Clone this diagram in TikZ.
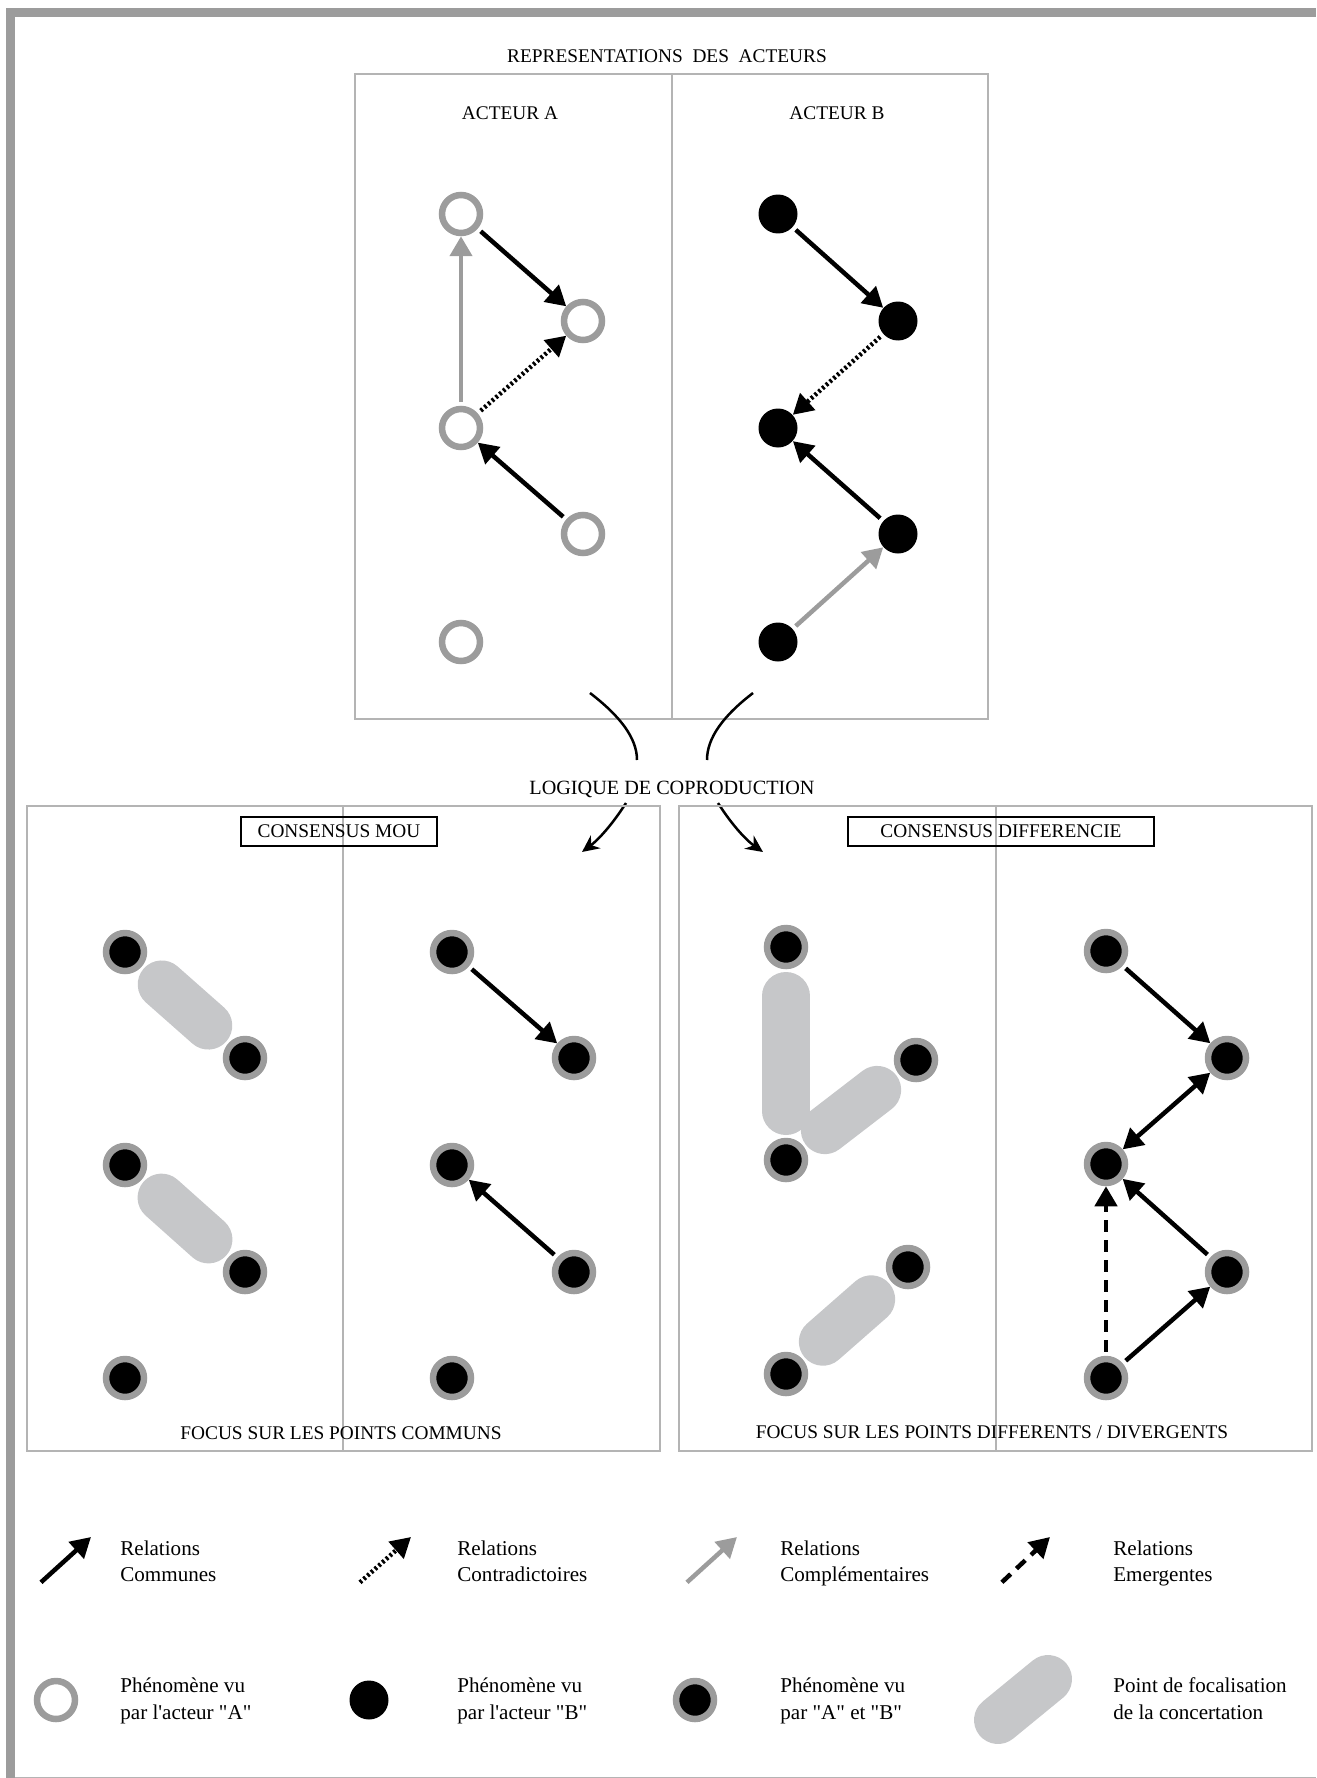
\documentclass[tikz,border=0pt]{standalone}
\usepackage{fontspec}
\setmainfont{Liberation Serif}
\usepackage{xcolor}
\usepackage{tikz}
\usetikzlibrary{arrows.meta, calc}

\definecolor{ringgray}{HTML}{9C9C9C}
\definecolor{pillgray}{HTML}{C6C7C9}
\definecolor{panelgray}{HTML}{B4B4B4}

\begin{document}
\begin{tikzpicture}[x=0.02cm, y=-0.02cm, >={Triangle[length=0.4cm, width=0.44cm]},
        every node/.style={font=\fontsize{11}{13}\selectfont}]
        % Define styles for phenomena, relations and panels
        \tikzstyle{seenA} = [circle, draw=ringgray, fill=white, line width=0.13cm,
                             minimum size=0.76cm, inner sep=0pt]
        \tikzstyle{seenB} = [circle, fill=black, minimum size=0.78cm, inner sep=0pt]
        \tikzstyle{seenAB} = [seenA, fill=black]
        \tikzstyle{commune} = [line width=0.09cm, ->, shorten <=0.08cm]
        \tikzstyle{contra} = [commune, dash pattern=on 0.05cm off 0.05cm]
        \tikzstyle{compl} = [commune, draw=ringgray]
        \tikzstyle{emerge} = [commune, dash pattern=on 0.24cm off 0.16cm]
        \tikzstyle{focus} = [draw=pillgray, line width=0.96cm, line cap=round]
        \tikzstyle{panel} = [draw=panelgray, line width=0.03cm]
        \tikzstyle{flow} = [line width=0.05cm, -{Stealth[length=0.34cm, width=0.32cm]}]
        \tikzstyle{tagbox} = [rectangle, draw, line width=0.05cm, minimum height=0.58cm, inner sep=0pt]
        \tikzstyle{legtext} = [anchor=base west, align=left, inner sep=0pt,
                               font=\fontsize{12}{15}\selectfont]

        \useasboundingbox (0,0) rectangle (1316,1778);

        % Outer frame
        \fill[ringgray] (6,8) rectangle (1316,17);
        \fill[ringgray] (6,8) rectangle (15,1778);
        \draw[panelgray, line width=0.02cm] (15,1777) -- (1316,1777);

        % Representations of the two actors
        \draw[panel] (355,74) rectangle (988,719);
        \draw[panel] (672,74) -- (672,719);
        \node (titre) [anchor=base] at (667,62) {REPRESENTATIONS\ \ DES\ \ ACTEURS};
        \node (acteurA) [anchor=base] at (510,119.5) {ACTEUR A};
        \node (acteurB) [anchor=base] at (837,119.5) {ACTEUR B};

        \node (a1) [seenA] at (461,214) {};
        \node (a2) [seenA] at (583,321) {};
        \node (a3) [seenA] at (461,428) {};
        \node (a4) [seenA] at (583,534) {};
        \node (a5) [seenA] at (461,642) {};
        \node (b1) [seenB] at (778,214) {};
        \node (b2) [seenB] at (898,321) {};
        \node (b3) [seenB] at (778,428) {};
        \node (b4) [seenB] at (898,534) {};
        \node (b5) [seenB] at (778,642) {};

        \draw [commune] (a1) -- (a2);
        \draw [compl] (a3) -- (a1);
        \draw [contra] (a3) -- (a2);
        \draw [commune] (a4) -- (a3);
        \draw [commune] (b1) -- (b2);
        \draw [contra] (b2) -- (b3);
        \draw [commune] (b4) -- (b3);
        \draw [compl] (b5) -- (b4);

        % Logique de coproduction
        \node (logique) [anchor=base, font=\fontsize{11.5}{13}\selectfont] at (672,794) {LOGIQUE DE COPRODUCTION};
        \coordinate (fromA) at (590,693);
        \coordinate (intoA) at (637,760);
        \coordinate (fromB) at (753,693);
        \coordinate (intoB) at (707,760);
        \coordinate (outMou) at (626,803);
        \coordinate (inMou) at (582,852);
        \coordinate (outDiff) at (718,803);
        \coordinate (inDiff) at (763,852);
        \draw [line width=0.05cm] (fromA) .. controls (620,716) and (637,738) .. (intoA);
        \draw [line width=0.05cm] (fromB) .. controls (723,716) and (707,738) .. (intoB);
        \draw [flow] (outMou) .. controls (612,825) and (598,840) .. (inMou);
        \draw [flow] (outDiff) .. controls (732,825) and (746,840) .. (inDiff);

        % Consensus mou
        \draw[panel] (27,806) rectangle (660,1451);
        \draw[panel] (343,806) -- (343,1451);
        \node (mou) [tagbox, minimum width=3.92cm] at (339,831.5) {CONSENSUS MOU};
        \node (communs) [anchor=base] at (341,1439.5) {FOCUS SUR LES POINTS COMMUNS};

        \node (l1) [seenAB] at (125,952) {};
        \node (l2) [seenAB] at (245,1058) {};
        \node (l3) [seenAB] at (125,1165) {};
        \node (l4) [seenAB] at (245,1272) {};
        \node (l5) [seenAB] at (125,1378) {};
        \draw [focus] ($(l1)!0.98cm!(l2)$) -- ($(l2)!0.98cm!(l1)$);
        \draw [focus] ($(l3)!0.98cm!(l4)$) -- ($(l4)!0.98cm!(l3)$);

        \node (m1) [seenAB] at (452,952) {};
        \node (m2) [seenAB] at (574,1058) {};
        \node (m3) [seenAB] at (452,1165) {};
        \node (m4) [seenAB] at (574,1272) {};
        \node (m5) [seenAB] at (452,1378) {};
        \draw [commune] (m1) -- (m2);
        \draw [commune] (m4) -- (m3);

        % Consensus differencie
        \draw[panel] (679,806) rectangle (1312,1451);
        \draw[panel] (996,806) -- (996,1451);
        \node (diff) [tagbox, minimum width=6.12cm] at (1001,831.5) {CONSENSUS DIFFERENCIE};
        \node (divergents) [anchor=base] at (992,1438.5) {FOCUS SUR LES POINTS DIFFERENTS / DIVERGENTS};

        \node (d1) [seenAB] at (786,947) {};
        \node (d2) [seenAB] at (916,1060) {};
        \node (d3) [seenAB] at (786,1160) {};
        \node (d4) [seenAB] at (908,1267) {};
        \node (d5) [seenAB] at (786,1374) {};
        \draw [focus] ($(d1)!0.98cm!(d3)$) -- ($(d3)!0.98cm!(d1)$);
        \draw [focus] ($(d3)!0.98cm!(d2)$) -- ($(d2)!0.98cm!(d3)$);
        \draw [focus] ($(d5)!0.98cm!(d4)$) -- ($(d4)!0.98cm!(d5)$);

        \node (e1) [seenAB] at (1106,951) {};
        \node (e2) [seenAB] at (1227,1058) {};
        \node (e3) [seenAB] at (1106,1164) {};
        \node (e4) [seenAB] at (1227,1272) {};
        \node (e5) [seenAB] at (1106,1378) {};
        \draw [commune] (e1) -- (e2);
        \draw [commune, <->, shorten <=0pt] (e2) -- (e3);
        \draw [commune] (e4) -- (e3);
        \draw [commune] (e5) -- (e4);
        \draw [emerge] (e5) -- (e3);

        % Legend
        \coordinate (k1s) at (38,1585);
        \coordinate (k1e) at (91,1537);
        \coordinate (k2s) at (357,1585);
        \coordinate (k2e) at (411,1537);
        \coordinate (k3s) at (684,1585);
        \coordinate (k3e) at (737,1537);
        \coordinate (k4s) at (999,1585);
        \coordinate (k4e) at (1050,1537);
        \draw [commune] (k1s) -- (k1e);
        \draw [contra] (k2s) -- (k2e);
        \draw [compl] (k3s) -- (k3e);
        \draw [emerge] (k4s) -- (k4e);
        \node (k1) [legtext] at (120,1581.5) {Relations\\Communes};
        \node (k2) [legtext] at (457,1581.5) {Relations\\Contradictoires};
        \node (k3) [legtext] at (780,1581.5) {Relations\\Complémentaires};
        \node (k4) [legtext] at (1113,1581.5) {Relations\\Emergentes};

        \node (kA) [seenA] at (56,1700) {};
        \node (kB) [seenB] at (369,1700) {};
        \node (kAB) [seenAB] at (695,1700) {};
        \coordinate (kf1) at (998,1720);
        \coordinate (kf2) at (1048,1679);
        \draw [focus] (kf1) -- (kf2);
        \node (p1) [legtext] at (120,1719.3) {Phénomène vu\\par l\textquotesingle acteur \textquotedbl A\textquotedbl};
        \node (p2) [legtext] at (457,1719.3) {Phénomène vu\\par l\textquotesingle acteur \textquotedbl B\textquotedbl};
        \node (p3) [legtext] at (780,1719.3) {Phénomène vu\\par \textquotedbl A\textquotedbl{} et \textquotedbl B\textquotedbl};
        \node (p4) [legtext] at (1113,1719.3) {Point de focalisation\\de la concertation};
    \end{tikzpicture}
\end{document}
